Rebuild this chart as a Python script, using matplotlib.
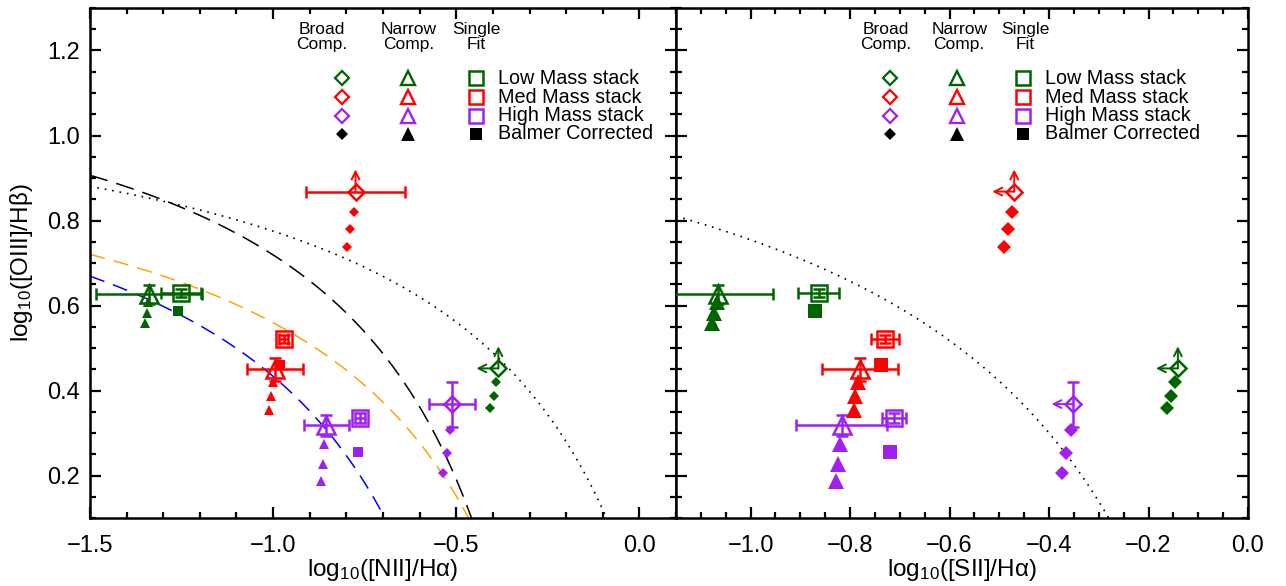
"""BPT / SII diagnostic diagrams for the mass-binned stacks."""

import numpy as np
import matplotlib
matplotlib.use("Agg")
import matplotlib.pyplot as plt
from matplotlib.ticker import MultipleLocator

plt.rcParams["font.family"] = ["Liberation Sans", "DejaVu Sans"]
plt.rcParams["mathtext.fontset"] = "custom"
plt.rcParams["mathtext.rm"] = "Liberation Sans"
plt.rcParams["mathtext.it"] = "Liberation Sans:italic"

# ---------------------------------------------------------------------------
# Measurements (one entry per mass stack: low, med, high)
# ---------------------------------------------------------------------------

STACK_LABELS = ["Low Mass stack", "Med Mass stack", "High Mass stack"]
STACK_COLORS = ["#006400", "#ff0000", "#a020f0"]

# log([OIII]/Hb) is shared by both panels
single_y = [0.629, 0.521, 0.336]
single_yerr = [0.010, 0.010, 0.012]
single_bc_y = [0.588, 0.461, 0.256]

narrow_y = [0.626, 0.450, 0.318]
narrow_yerr = [0.022, 0.027, 0.024]
narrow_bc_y = [[0.608, 0.583, 0.558],
               [0.420, 0.386, 0.355],
               [0.273, 0.227, 0.188]]

broad_y = [0.452, 0.868, 0.368]
broad_yerr = [0.0, 0.0, 0.053]
broad_bc_y = [[0.419, 0.388, 0.360],
              [0.821, 0.779, 0.738],
              [0.307, 0.254, 0.207]]
broad_lower_y = [True, True, False]      # [OIII]/Hb lower limits

# log([NII]/Ha)
nii_single_x = [-1.252, -0.971, -0.762]
nii_single_xerr = [0.055, 0.012, 0.014]
nii_single_bc_x = [-1.261, -0.982, -0.769]

nii_narrow_x = [-1.338, -0.995, -0.855]
nii_narrow_xerr = [0.145, 0.077, 0.061]
nii_narrow_bc_x = [[-1.343, -1.345, -1.350],
                   [-1.000, -1.005, -1.010],
                   [-0.860, -0.863, -0.868]]

nii_broad_x = [-0.385, -0.775, -0.512]
nii_broad_xerr = [0.0, 0.136, 0.063]
nii_broad_bc_x = [[-0.391, -0.398, -0.407],
                  [-0.780, -0.789, -0.798],
                  [-0.516, -0.525, -0.535]]
nii_broad_upper_x = [True, False, False]

# log([SII]/Ha)
sii_single_x = [-0.863, -0.729, -0.711]
sii_single_xerr = [0.041, 0.028, 0.024]
sii_single_bc_x = [-0.871, -0.738, -0.720]

sii_narrow_x = [-1.065, -0.780, -0.817]
sii_narrow_xerr = [0.110, 0.076, 0.092]
sii_narrow_bc_x = [[-1.068, -1.073, -1.077],
                   [-0.785, -0.790, -0.793],
                   [-0.821, -0.825, -0.829]]

sii_broad_x = [-0.141, -0.470, -0.351]
sii_broad_xerr = [0.0, 0.0, 0.0]
sii_broad_bc_x = [[-0.146, -0.155, -0.163],
                  [-0.475, -0.483, -0.491],
                  [-0.356, -0.365, -0.373]]
sii_broad_upper_x = [True, True, True]

# Demarcation curves y = a / (x - b) + c
KAUFFMANN03 = (0.61, 0.05, 1.30)
KEWLEY01_NII = (0.61, 0.47, 1.19)
KEWLEY01_SII = (0.72, 0.32, 1.30)
SHIFTED_HIGHZ = (0.61, 0.15, 1.09)
SHIFTED_LOWZ = (0.61, -0.085, 1.10)


def demarcation(ax, coeffs, x0, x1, **kw):
    """Draw a hyperbolic demarcation line on the branch left of its asymptote."""
    a, b, c = coeffs
    x = np.linspace(x0, min(x1, b - 0.005), 600)
    ax.plot(x, a / (x - b) + c, **kw)


# ---------------------------------------------------------------------------
# Plotting helpers
# ---------------------------------------------------------------------------

def style_axes(ax, xmajor, xminor):
    ax.set_ylim(0.1, 1.3)
    ax.xaxis.set_major_locator(MultipleLocator(xmajor))
    ax.xaxis.set_minor_locator(MultipleLocator(xminor))
    ax.yaxis.set_major_locator(MultipleLocator(0.2))
    ax.yaxis.set_minor_locator(MultipleLocator(0.05))
    ax.tick_params(which="both", direction="in", top=True, right=True,
                   width=1.6, labelsize=17)
    ax.tick_params(which="major", length=8)
    ax.tick_params(which="minor", length=4)
    ax.tick_params(axis="x", pad=12)
    ax.tick_params(axis="y", pad=7)
    for spine in ax.spines.values():
        spine.set_linewidth(1.8)


def draw_stacks(ax, xs, fs, arrow_dx):
    """Draw single-fit, narrow and broad components for each mass stack.

    fs scales the filled (Balmer corrected) markers.
    """
    for i, col in enumerate(STACK_COLORS):
        eb = dict(fmt="none", ecolor=col, elinewidth=1.8, capsize=4,
                  capthick=1.8, zorder=3)

        # single Gaussian fit
        ax.errorbar(xs["single_x"][i], single_y[i], xerr=xs["single_xerr"][i],
                    yerr=single_yerr[i], **eb)
        ax.plot(xs["single_x"][i], single_y[i], "s", ms=11.5, mfc="none",
                mec=col, mew=1.8, zorder=4)
        ax.plot(xs["single_bc_x"][i], single_bc_y[i], "s", ms=7 * fs,
                color=col, mew=0, zorder=4)

        # narrow component
        ax.errorbar(xs["narrow_x"][i], narrow_y[i], xerr=xs["narrow_xerr"][i],
                    yerr=narrow_yerr[i], **eb)
        ax.plot(xs["narrow_bc_x"][i], narrow_bc_y[i], "^", ms=7.5 * fs,
                color=col, mew=0, zorder=4, ls="none")
        ax.plot(xs["narrow_x"][i], narrow_y[i], "^", ms=13, mfc="none",
                mec=col, mew=1.8, zorder=5)

        # broad component
        bx, by = xs["broad_x"][i], broad_y[i]
        if xs["broad_xerr"][i] > 0 or broad_yerr[i] > 0:
            ax.errorbar(bx, by, xerr=xs["broad_xerr"][i] or None,
                        yerr=broad_yerr[i] or None, **eb)
        ax.plot(xs["broad_bc_x"][i], broad_bc_y[i], "D", ms=5 * fs,
                color=col, mew=0, zorder=4, ls="none")
        ax.plot(bx, by, "D", ms=8.5, mfc="none", mec=col, mew=1.8, zorder=5)

        arrow = dict(arrowstyle="->", color=col, lw=1.4, shrinkA=0,
                     shrinkB=0, mutation_scale=14)
        if broad_lower_y[i]:
            ax.annotate("", xy=(bx, by + 0.052), xytext=(bx, by),
                        arrowprops=arrow, zorder=5)
        if xs["broad_upper_x"][i]:
            ax.annotate("", xy=(bx - arrow_dx, by), xytext=(bx, by),
                        arrowprops=arrow, zorder=5)


def draw_key(ax, col_x, text_x, head_x):
    """Marker key in the upper part of the panel (axes coordinates)."""
    rows = [0.862, 0.825, 0.789, 0.753]
    kw = dict(transform=ax.transAxes, clip_on=False, ls="none")
    for name, hx in zip(["Broad\nComp.", "Narrow\nComp.", "Single\nFit"], head_x):
        ax.text(hx, 0.943, name, transform=ax.transAxes, ha="center",
                va="center", fontsize=12.5, linespacing=0.95)
    for i, col in enumerate(STACK_COLORS):
        ax.plot(col_x[0], rows[i], "D", ms=7, mfc="none", mec=col, mew=1.6, **kw)
        ax.plot(col_x[1], rows[i], "^", ms=10.5, mfc="none", mec=col, mew=1.7, **kw)
        ax.plot(col_x[2], rows[i], "s", ms=9.5, mfc="none", mec=col, mew=1.8, **kw)
        ax.text(text_x, rows[i], STACK_LABELS[i], transform=ax.transAxes,
                va="center", fontsize=14.2)
    ax.plot(col_x[0], rows[3], "D", ms=6.5, color="black", mew=0, **kw)
    ax.plot(col_x[1], rows[3], "^", ms=9.5, color="black", mew=0, **kw)
    ax.plot(col_x[2], rows[3], "s", ms=9, color="black", mew=0, **kw)
    ax.text(text_x, rows[3], "Balmer Corrected", transform=ax.transAxes,
            va="center", fontsize=14.2)


# ---------------------------------------------------------------------------
# Figure
# ---------------------------------------------------------------------------

fig = plt.figure(figsize=(12.86, 5.86), dpi=100)
ax_n = fig.add_axes([90 / 1286, 68 / 586, 586 / 1286, 510 / 586])
ax_s = fig.add_axes([676 / 1286, 68 / 586, 572 / 1286, 510 / 586])

# [NII] panel
ax_n.set_xlim(-1.5, 0.1)
style_axes(ax_n, 0.5, 0.1)
demarcation(ax_n, KEWLEY01_NII, -1.5, 0.1, color="black", lw=1.2,
            ls=(0, (1, 3.5)))
demarcation(ax_n, KAUFFMANN03, -1.5, 0.1, color="black", lw=1.1,
            ls=(0, (12, 6)))
demarcation(ax_n, SHIFTED_HIGHZ, -1.5, 0.1, color="#ffa500", lw=1.1,
            ls=(0, (10, 6)))
demarcation(ax_n, SHIFTED_LOWZ, -1.5, 0.1, color="#0000ff", lw=1.1,
            ls=(0, (10, 6)))
draw_stacks(ax_n, dict(single_x=nii_single_x, single_xerr=nii_single_xerr,
                       single_bc_x=nii_single_bc_x, narrow_x=nii_narrow_x,
                       narrow_xerr=nii_narrow_xerr, narrow_bc_x=nii_narrow_bc_x,
                       broad_x=nii_broad_x, broad_xerr=nii_broad_xerr,
                       broad_bc_x=nii_broad_bc_x,
                       broad_upper_x=nii_broad_upper_x),
            fs=1.0, arrow_dx=0.06)
draw_key(ax_n, [0.430, 0.543, 0.659], 0.696, [0.396, 0.544, 0.659])
ax_n.set_xlabel("log$_{10}$([NII]/Hα)", fontsize=17.5, labelpad=0)
ax_n.set_ylabel("log$_{10}$([OIII]/Hβ)", fontsize=17.5, labelpad=9)
ax_n.set_xticks([-1.5, -1.0, -0.5, 0.0])
ax_n.set_xticklabels(["−1.5", "−1.0", "−0.5", "0.0"])

# [SII] panel
ax_s.set_xlim(-1.15, 0.0)
style_axes(ax_s, 0.2, 0.05)
ax_s.tick_params(labelleft=False)
demarcation(ax_s, KEWLEY01_SII, -1.15, 0.0, color="black", lw=1.2,
            ls=(0, (1, 3.5)))
draw_stacks(ax_s, dict(single_x=sii_single_x, single_xerr=sii_single_xerr,
                       single_bc_x=sii_single_bc_x, narrow_x=sii_narrow_x,
                       narrow_xerr=sii_narrow_xerr, narrow_bc_x=sii_narrow_bc_x,
                       broad_x=sii_broad_x, broad_xerr=sii_broad_xerr,
                       broad_bc_x=sii_broad_bc_x,
                       broad_upper_x=sii_broad_upper_x),
            fs=1.45, arrow_dx=0.044)
draw_key(ax_s, [0.374, 0.491, 0.607], 0.645, [0.367, 0.495, 0.610])
ax_s.set_xlabel("log$_{10}$([SII]/Hα)", fontsize=17.5, labelpad=0)
ax_s.set_xticks([-1.0, -0.8, -0.6, -0.4, -0.2, 0.0])
ax_s.set_xticklabels(["−1.0", "−0.8", "−0.6", "−0.4", "−0.2", "0.0"])

fig.savefig("out.png", dpi=100)
